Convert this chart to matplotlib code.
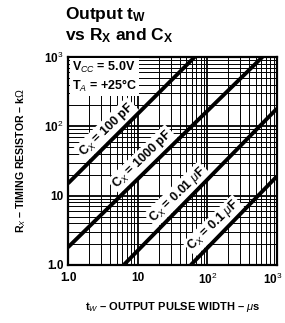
import numpy as np
import matplotlib.pyplot as plt
import matplotlib.transforms as mtransforms
from matplotlib import font_manager
from matplotlib.ticker import FixedLocator, NullFormatter

plt.rcParams['font.family'] = ['Liberation Sans', 'DejaVu Sans']
names = {f.name for f in font_manager.fontManager.ttflist}
NARROW = 'Liberation Sans Narrow' if 'Liberation Sans Narrow' in names else 'Liberation Sans'

# curves: (t_w in us, R_x in kOhm) end points
curve_labels = [r"C$_X$ = 100 pF", r"C$_X$ = 1000 pF",
                r"C$_X$ = 0.01 $\mu$F", r"C$_X$ = 0.1 $\mu$F"]
curve_tw = [[1.0, 66.0], [1.0, 620.0], [6.3, 1000.0], [58.0, 1000.0]]
curve_rx = [[15.0, 1000.0], [1.8, 1000.0], [1.0, 180.0], [1.0, 19.0]]
label_tw = [4.6, 15.0, 48.0, 160.0]

x_ticks = [1, 10, 100, 1000]
x_ticklabels = ["1.0", "10", r"10$^2$", r"10$^3$"]
y_ticks = [1, 10, 100, 1000]
y_ticklabels = ["1.0", "10", r"10$^2$", r"10$^3$"]

plt.rcParams['mathtext.fontset'] = 'custom'
plt.rcParams['mathtext.rm'] = NARROW
plt.rcParams['mathtext.it'] = NARROW + ':italic'
plt.rcParams['mathtext.bf'] = NARROW + ':bold'

fig = plt.figure(figsize=(2.85, 3.23), dpi=100)
ax = fig.add_axes([0.2386, 0.1796, 0.733, 0.644])

ax.set_xscale("log")
ax.set_yscale("log")
ax.set_xlim(1, 1000)
ax.set_ylim(1, 1000)

minor = np.concatenate([np.arange(2, 10) * 10.0 ** k for k in range(3)])
ax.xaxis.set_minor_locator(FixedLocator(minor))
ax.yaxis.set_minor_locator(FixedLocator(minor))
ax.xaxis.set_minor_formatter(NullFormatter())
ax.yaxis.set_minor_formatter(NullFormatter())
ax.grid(True, which="major", color="black", linewidth=1.3)
ax.grid(True, which="minor", color="black", linewidth=0.7)
ax.tick_params(which="both", length=0)
ax.set_xticks(x_ticks)
ax.set_xticklabels(x_ticklabels, fontsize=8.5, family=NARROW, fontweight="bold")
ax.set_yticks(y_ticks)
ax.set_yticklabels(y_ticklabels, fontsize=8.5, family=NARROW, fontweight="bold")
ax.tick_params(axis="x", pad=5)
ax.tick_params(axis="y", pad=3)
for s in ax.spines.values():
    s.set_linewidth(1.6)

# nudge the last x tick label inside the figure edge
last = ax.get_xticklabels()[-1]
last.set_transform(last.get_transform() +
                   mtransforms.ScaledTranslation(-3 / 72, 0, fig.dpi_scale_trans))

for tw, rx, lab, lx in zip(curve_tw, curve_rx, curve_labels, label_tw):
    ax.plot(tw, rx, color="black", linewidth=2.8, solid_capstyle="butt", zorder=6)
    t = (np.log10(lx) - np.log10(tw[0])) / (np.log10(tw[1]) - np.log10(tw[0]))
    ly = 10 ** (np.log10(rx[0]) + t * (np.log10(rx[1]) - np.log10(rx[0])))
    ax.annotate(lab, xy=(lx, ly), xytext=(-1.5, 1.5), textcoords="offset points",
                rotation=44, rotation_mode="anchor", ha="center", va="bottom",
                fontsize=9, family=NARROW, fontweight="bold", zorder=5,
                bbox=dict(facecolor="white", edgecolor="none", pad=1.2))

ax.text(0.02, 0.985, "V$_{CC}$ = 5.0V\nT$_A$ = +25°C", transform=ax.transAxes,
        ha="left", va="top", fontsize=9, family=NARROW, fontweight="bold",
        linespacing=1.25, zorder=5,
        bbox=dict(facecolor="white", edgecolor="none", pad=1.5))

fig.text(0.228, 0.985, "Output t$_\\mathbf{W}$\nvs R$_\\mathbf{X}$ and C$_\\mathbf{X}$",
         ha="left", va="top", fontsize=12.5, fontweight="bold", linespacing=1.15)

ax.set_xlabel(r"t$_W$ – OUTPUT PULSE WIDTH – $\mu$s", fontsize=8, family=NARROW,
              fontweight="bold", labelpad=9)
ax.set_ylabel(r"R$_X$ – TIMING RESISTOR – k$\Omega$", fontsize=7.6, family=NARROW,
              fontweight="bold")
ax.yaxis.set_label_coords(-0.19, 0.5)

fig.savefig("out.png", dpi=100)
